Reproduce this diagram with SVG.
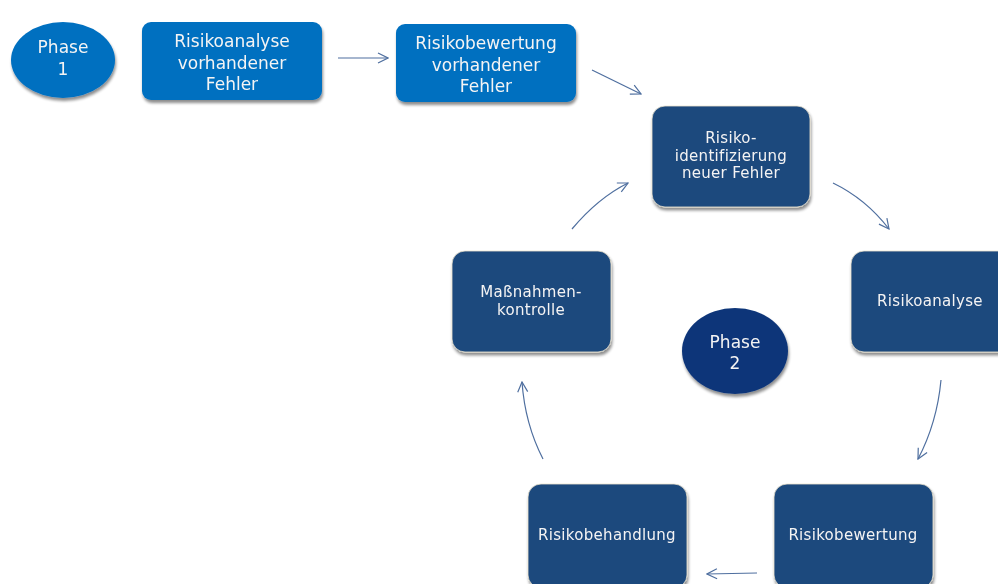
<svg xmlns="http://www.w3.org/2000/svg" width="998" height="584" viewBox="0 0 998 584">
<defs>
  <filter id="sh" x="-20%" y="-20%" width="140%" height="150%">
    <feGaussianBlur in="SourceAlpha" stdDeviation="1.8"/>
    <feOffset dx="1" dy="2.5" result="b"/>
    <feComponentTransfer><feFuncA type="linear" slope="0.45"/></feComponentTransfer>
    <feMerge><feMergeNode/><feMergeNode in="SourceGraphic"/></feMerge>
  </filter>
  <marker id="ah" viewBox="0 0 12 12" refX="11" refY="6" markerWidth="12" markerHeight="12" markerUnits="userSpaceOnUse" orient="auto">
    <path d="M1,1 L11,6 L1,11" fill="none" stroke="#4f6f9f" stroke-width="1.2"/>
  </marker>
</defs>
<style>
  .p1 { fill: #0070c0; }
  .top { fill: #0070c0; }
  .cyc { fill: #1f497d; stroke: #ece5cf; stroke-width: 0.8; }
  .p2 { fill: #0f3679; }
  .t { font-family: "DejaVu Sans", Verdana, sans-serif; fill: #f4f4f4; text-anchor: middle; }
  .tl { font-size: 17px; }
  .ts { font-size: 15px; letter-spacing: 0.3px; }
  .c { fill: none; stroke: #4f6f9f; stroke-width: 1.2; marker-end: url(#ah); }
</style>
<rect width="998" height="584" fill="#ffffff"/>

<g id="phase1" filter="url(#sh)">
  <ellipse class="p1" cx="63" cy="60" rx="52" ry="38"/>
  <text class="t tl" x="63" y="53">Phase</text>
  <text class="t tl" x="63" y="75">1</text>
</g>

<g id="risikoanalyse-vorhandener" filter="url(#sh)">
  <rect class="top" x="142" y="22" width="180" height="78" rx="9"/>
  <text class="t tl" x="232" y="47">Risikoanalyse</text>
  <text class="t tl" x="232" y="69">vorhandener</text>
  <text class="t tl" x="232" y="90">Fehler</text>
</g>

<g id="risikobewertung-vorhandener" filter="url(#sh)">
  <rect class="top" x="396" y="24" width="180" height="78" rx="9"/>
  <text class="t tl" x="486" y="49">Risikobewertung</text>
  <text class="t tl" x="486" y="71">vorhandener</text>
  <text class="t tl" x="486" y="92">Fehler</text>
</g>

<g id="risikoidentifizierung" filter="url(#sh)">
  <rect class="cyc" x="652" y="106" width="158" height="101" rx="13"/>
  <text class="t ts" x="731" y="143">Risiko-</text>
  <text class="t ts" x="731" y="161">identifizierung</text>
  <text class="t ts" x="731" y="178">neuer Fehler</text>
</g>

<g id="risikoanalyse" filter="url(#sh)">
  <rect class="cyc" x="851" y="251" width="160" height="101" rx="13"/>
  <text class="t ts" x="930" y="306">Risikoanalyse</text>
</g>

<g id="risikobewertung" filter="url(#sh)">
  <rect class="cyc" x="774" y="484" width="159" height="104" rx="13"/>
  <text class="t ts" x="853" y="540">Risikobewertung</text>
</g>

<g id="risikobehandlung" filter="url(#sh)">
  <rect class="cyc" x="528" y="484" width="159" height="104" rx="13"/>
  <text class="t ts" x="607" y="540">Risikobehandlung</text>
</g>

<g id="massnahmenkontrolle" filter="url(#sh)">
  <rect class="cyc" x="452" y="251" width="159" height="101" rx="13"/>
  <text class="t ts" x="531" y="297">Maßnahmen-</text>
  <text class="t ts" x="531" y="315">kontrolle</text>
</g>

<g id="phase2" filter="url(#sh)">
  <ellipse class="p2" cx="735" cy="351" rx="53" ry="43"/>
  <text class="t tl" x="735" y="348">Phase</text>
  <text class="t tl" x="735" y="369">2</text>
</g>

<g id="connectors">
  <path class="c" d="M338,58 L388,58"/>
  <path class="c" d="M592,70 L641,94"/>
  <path class="c" d="M833,183 Q866,199 889,229"/>
  <path class="c" d="M941,380 Q937,423 918,459"/>
  <path class="c" d="M757,573 L707,574"/>
  <path class="c" d="M543,459 Q525,424 522,382"/>
  <path class="c" d="M572,229 Q598,198 628,183"/>
</g>
</svg>
